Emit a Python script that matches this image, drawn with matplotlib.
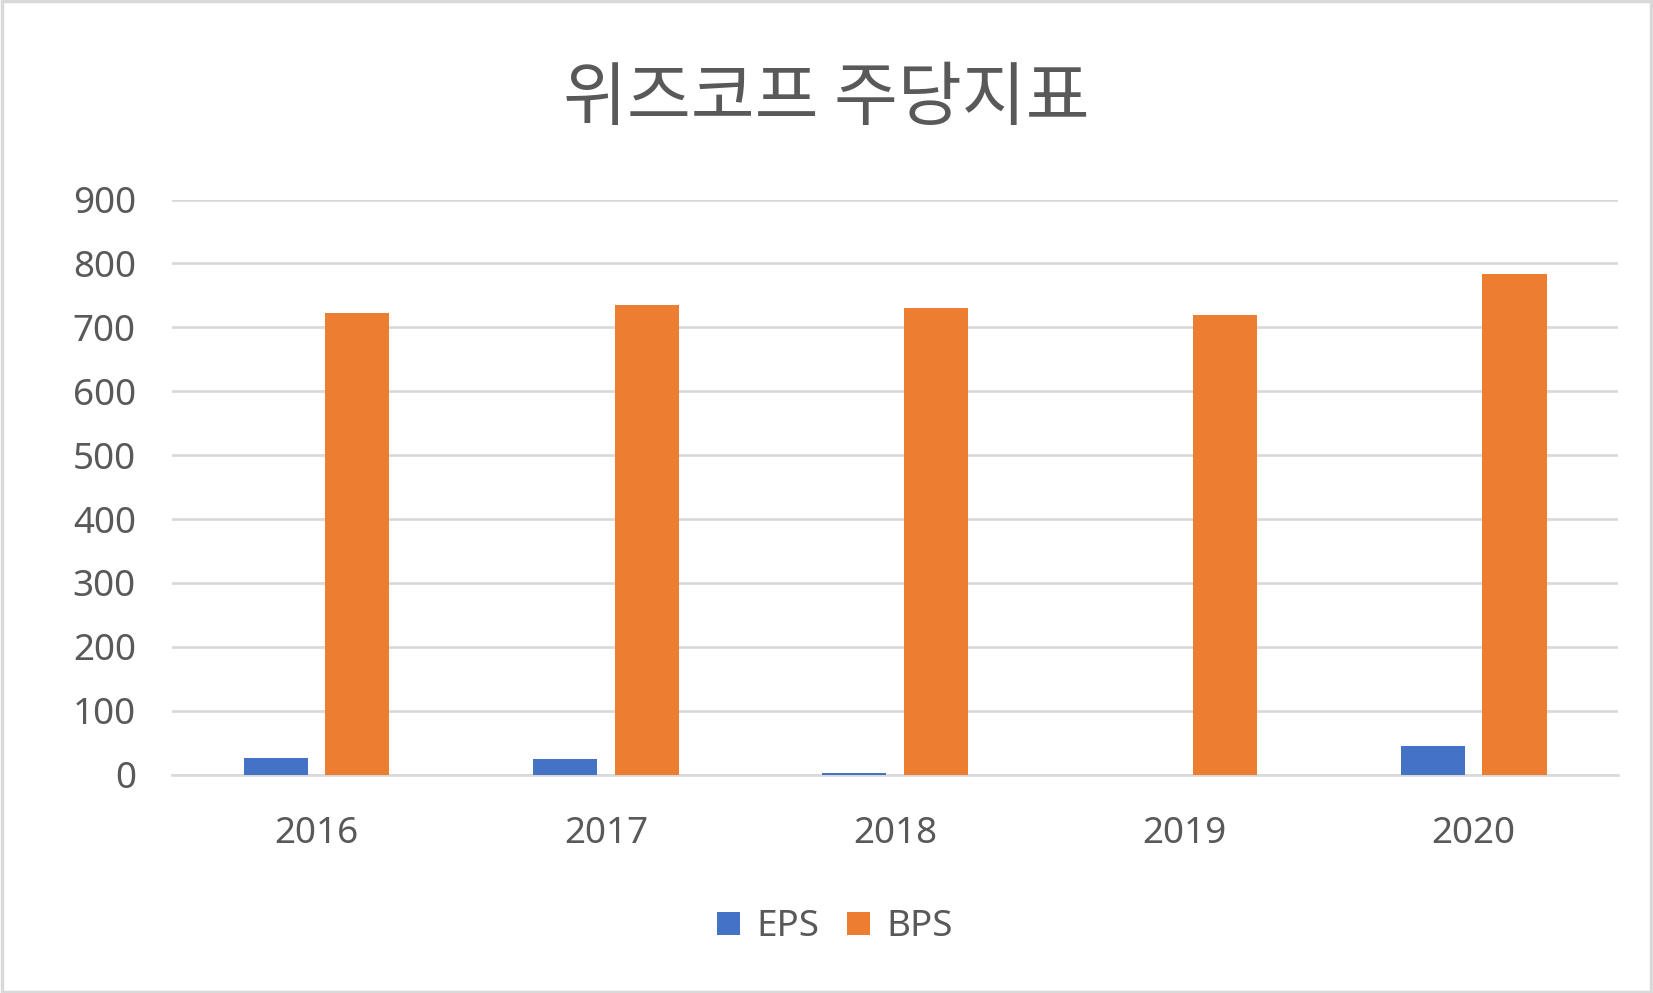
import numpy as np
from matplotlib import pyplot as plt
from matplotlib.patches import Rectangle

plt.rcParams['font.family'] = ['Noto Sans CJK KR', 'Noto Sans', 'DejaVu Sans']

years = ['2016', '2017', '2018', '2019', '2020']
eps = [26, 25, 3, 0, 44]
bps = [723, 735, 730, 720, 784]
y_ticks = [0, 100, 200, 300, 400, 500, 600, 700, 800, 900]

text_color = '#595959'
grid_color = '#D9D9D9'
eps_color = '#4472C4'
bps_color = '#ED7D31'

fig = plt.figure(figsize=(16.53, 9.93), dpi=100)
ax = fig.add_axes([0.104, 0.220, 0.875, 0.579])

x = np.arange(len(years))
width = 0.222
offset = 0.141
ax.bar(x - offset, eps, width, color=eps_color, label='EPS', zorder=3)
ax.bar(x + offset, bps, width, color=bps_color, label='BPS', zorder=3)

ax.set_xlim(-0.5, len(years) - 0.5)
ax.set_ylim(0, 900)
ax.set_yticks(y_ticks)
ax.set_xticks(x)
ax.set_xticklabels(years)
ax.yaxis.grid(True, color=grid_color, linewidth=1.9, zorder=0)
ax.set_axisbelow(True)
for side in ['top', 'right', 'left']:
    ax.spines[side].set_visible(False)
ax.spines['bottom'].set_color(grid_color)
ax.spines['bottom'].set_linewidth(1.9)
ax.tick_params(axis='y', length=0, pad=26, labelsize=26.5, labelcolor=text_color)
ax.tick_params(axis='x', length=0, pad=30, labelsize=26.5, labelcolor=text_color)
for lab in ax.get_yticklabels() + ax.get_xticklabels():
    lab.set_fontfamily(['Noto Sans', 'DejaVu Sans'])

fig.text(0.5, 0.900, '위즈코프 주당지표', ha='center', va='center',
         fontsize=50, color=text_color)

leg = fig.legend(loc='center', bbox_to_anchor=(0.505, 0.066), ncol=2, frameon=False,
                 handlelength=0.62, handleheight=0.62, handletextpad=0.45,
                 columnspacing=0.75, labelcolor=text_color,
                 prop={'family': ['Noto Sans', 'DejaVu Sans'], 'size': 26.5})

fig.patches.append(Rectangle((0.001, 0.001), 0.998, 0.998, transform=fig.transFigure,
                             fill=False, edgecolor=grid_color, linewidth=2.5))

plt.savefig('out.png', dpi=100)
